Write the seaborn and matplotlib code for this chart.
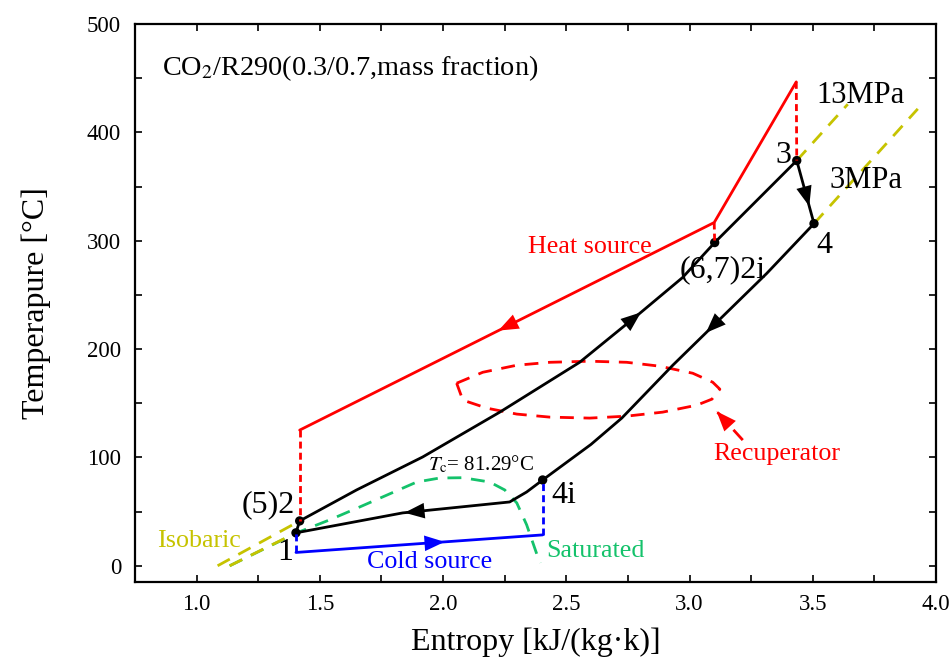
import matplotlib
matplotlib.use("Agg")
import matplotlib.pyplot as plt
import numpy as np
import pandas as pd
import seaborn as sns

# ---------------- data: entropy s [kJ/(kg·K)], temperature T [°C] ----------------
# state points of the cycle
state_names = ["1", "(5)2", "(6,7)2i", "3", "4", "4i"]
state_s = [1.403, 1.418, 3.102, 3.435, 3.505, 2.404]
state_T = [30.4, 41.4, 298.3, 374.0, 315.8, 79.2]

# compression 1 -> 2
comp_s = [1.403, 1.418]
comp_T = [30.4, 41.4]

# high-pressure heating 2 -> 2i -> 3
heat_s = [1.418, 1.649, 1.917, 2.230, 2.554, 2.798, 2.972, 3.102, 3.435]
heat_T = [41.4, 70.0, 100.4, 141.8, 187.8, 233.0, 266.1, 298.3, 374.0]

# turbine expansion 3 -> 4
exp_s = [3.435, 3.505]
exp_T = [374.0, 315.8]

# low-pressure cooling 4 -> 4i -> 1
cool_s = [3.505, 3.313, 2.932, 2.725, 2.600, 2.404, 2.339, 2.270, 1.836, 1.403]
cool_T = [315.8, 269.8, 185.1, 136.3, 112.0, 79.2, 68.1, 58.9, 48.8, 30.4]

# heat source stream
hsrc_s = [3.433, 3.100, 1.418]
hsrc_T = [446.6, 316.8, 125.2]

# cold source stream
csrc_s = [1.403, 2.404]
csrc_T = [12.3, 28.5]

# saturation dome of the mixture (critical temperature 81.29 °C)
dome_s = [1.134, 1.406, 1.540, 1.662, 1.893, 1.986, 2.080, 2.189, 2.250, 2.299, 2.339, 2.384, 2.396]
dome_T = [0.0, 30.4, 42.4, 54.3, 77.3, 81.0, 81.29, 77.3, 70.0, 58.0, 37.8, 8.3, 2.8]

# isobars 13 MPa and 3 MPa (low- and high-temperature parts)
iso13_low_s, iso13_low_T = [1.085, 1.418], [0.0, 41.4]
iso3_low_s, iso3_low_T = [1.134, 1.403], [0.0, 30.4]
iso13_high_s, iso13_high_T = [3.435, 3.642], [374.0, 426.0]
iso3_high_s, iso3_high_T = [3.505, 3.926], [315.8, 421.7]

# recuperator outline
recup_s = [2.055, 2.161, 2.299, 2.433, 2.595, 2.745, 2.879, 3.013, 3.094, 3.123,
           3.091, 3.029, 2.891, 2.745, 2.595, 2.433, 2.299, 2.177, 2.080, 2.055]
recup_T = [168.5, 178.6, 185.1, 187.8, 188.8, 187.8, 184.2, 177.7, 169.4, 163.0,
           153.8, 148.2, 141.8, 138.1, 136.3, 137.2, 140.0, 145.5, 152.9, 168.5]
recup_ptr_s = [3.216, 3.100]
recup_ptr_T = [116.0, 145.0]

# axis ticks
x_ticks = [1.0, 1.5, 2.0, 2.5, 3.0, 3.5, 4.0]
y_ticks = [0, 100, 200, 300, 400, 500]

# ---------------- style ----------------
sns.set_theme(style="ticks")
plt.rcParams["font.family"] = ["Liberation Serif", "DejaVu Serif"]
plt.rcParams["mathtext.fontset"] = "stix"
plt.rcParams["text.color"] = "black"
plt.rcParams["axes.labelcolor"] = "black"
plt.rcParams["xtick.color"] = "black"
plt.rcParams["ytick.color"] = "black"

RED = "#ff0000"
BLUE = "#0000ff"
GREEN = "#14c26b"
OLIVE = "#c6c300"
BLACK = "#000000"

fig = plt.figure(figsize=(9.49, 6.62), dpi=100)
ax = fig.add_axes([0.1423, 0.1208, 0.8440, 0.8429])
ax.set_xlim(0.75, 4.0)
ax.set_ylim(-15, 500)


def draw(xs, ys, color, lw=2.0, ls="-", z=2):
    df = pd.DataFrame({"s": xs, "T": ys})
    sns.lineplot(data=df, x="s", y="T", sort=False, estimator=None, ax=ax,
                 color=color, linewidth=lw, linestyle=ls, zorder=z,
                 legend=False)


def arrow_at(xs, ys, where, color, axis="x", size=17):
    """Filled arrow head placed on a polyline, pointing along the flow."""
    xs = np.asarray(xs, float)
    ys = np.asarray(ys, float)
    ref = xs if axis == "x" else ys
    for i in range(len(xs) - 1):
        a, b = ref[i], ref[i + 1]
        if min(a, b) <= where <= max(a, b) and a != b:
            t = (where - a) / (b - a)
            px = xs[i] + t * (xs[i + 1] - xs[i])
            py = ys[i] + t * (ys[i + 1] - ys[i])
            dx, dy = xs[i + 1] - xs[i], ys[i + 1] - ys[i]
            break
    tip = (px + 0.02 * dx, py + 0.02 * dy)
    tail = (px - 0.02 * dx, py - 0.02 * dy)
    ax.annotate("", xy=tip, xytext=tail,
                arrowprops=dict(arrowstyle="-|>,head_length=0.85,head_width=0.33",
                                mutation_scale=size, lw=0, fc=color, ec=color,
                                shrinkA=0, shrinkB=0), zorder=6)


dash_long = (0, (5, 3.5))
dash_short = (0, (2.5, 1.5))

# isobars and saturation dome
draw(iso13_low_s, iso13_low_T, OLIVE, ls=dash_long, z=3)
draw(iso3_low_s, iso3_low_T, OLIVE, ls=dash_long, z=3)
draw(iso13_high_s, iso13_high_T, OLIVE, ls=dash_long, z=3)
draw(iso3_high_s, iso3_high_T, OLIVE, ls=dash_long, z=3)
draw(dome_s, dome_T, GREEN, ls=dash_long, z=2)

# heat source / cold source streams
draw(hsrc_s, hsrc_T, RED)
draw(csrc_s, csrc_T, BLUE)

# recuperator
draw(recup_s, recup_T, RED, ls=dash_long)
draw(recup_ptr_s, recup_ptr_T, RED, ls=dash_long)

# thermodynamic cycle
for xs, ys in [(comp_s, comp_T), (heat_s, heat_T), (exp_s, exp_T), (cool_s, cool_T)]:
    draw(xs, ys, BLACK, z=4)

sns.scatterplot(x=state_s, y=state_T, ax=ax, color=BLACK, s=45,
                edgecolor="none", zorder=5, legend=False)

# pinch connections between cycle and external streams
draw([hsrc_s[2], comp_s[1]], [hsrc_T[2], comp_T[1]], RED, ls=dash_short, z=6)
draw([hsrc_s[1], heat_s[7]], [hsrc_T[1], heat_T[7]], RED, ls=dash_short, z=6)
draw([hsrc_s[0], heat_s[-1]], [hsrc_T[0], heat_T[-1]], RED, ls=dash_short, z=6)
draw([csrc_s[0], comp_s[0]], [csrc_T[0], comp_T[0]], BLUE, ls=dash_short, z=6)
draw([csrc_s[1], cool_s[5]], [csrc_T[1], cool_T[5]], BLUE, ls=dash_short, z=6)

# flow direction arrows
arrow_at(hsrc_s, hsrc_T, 2.258, RED)
arrow_at(csrc_s, csrc_T, 1.986, BLUE)
arrow_at(heat_s, heat_T, 2.798, BLACK)
arrow_at(cool_s, cool_T, 3.074, BLACK)
arrow_at(cool_s, cool_T, 1.852, BLACK)
arrow_at(exp_s, exp_T, 333.0, BLACK, axis="y")
arrow_at(recup_ptr_s, recup_ptr_T, 3.112, RED)

# ---------------- labels ----------------
ax.text(0.858, 453, r"CO$_2$/R290(0.3/0.7,mass fraction)", fontsize=20.3, va="baseline")
ax.text(3.516, 427.3, "13MPa", fontsize=22, va="baseline")
ax.text(3.569, 349.0, "3MPa", fontsize=22, va="baseline")
ax.text(3.415, 372.0, "3", fontsize=23, va="baseline", ha="right")
ax.text(3.516, 289.1, "4", fontsize=23, va="baseline")
ax.text(2.960, 266.1, "(6,7)2i", fontsize=23, va="baseline")
ax.text(2.441, 58.0, "4i", fontsize=23, va="baseline")
ax.text(1.398, 49.7, "(5)2", fontsize=23, va="baseline", ha="right")
ax.text(1.361, 5.5, "1", fontsize=23, va="baseline", ha="center")
ax.text(2.343, 289.1, "Heat source", fontsize=18.7, va="baseline", color=RED)
ax.text(3.098, 97.6, "Recuperator", fontsize=18.7, va="baseline", color=RED)
ax.text(2.420, 8.3, "Saturated", fontsize=18.7, va="baseline", color=GREEN)
ax.text(1.690, -1.8, "Cold source", fontsize=18.7, va="baseline", color=BLUE)
ax.text(0.838, 17.5, "Isobaric", fontsize=18.7, va="baseline", color=OLIVE)
ax.text(1.9375, 88.4, r"$T_\mathrm{c}$= 81.29°C", fontsize=15, va="baseline")

# ---------------- axes ----------------
ax.set_xticks(x_ticks)
ax.set_xticklabels([f"{v:.1f}" for v in x_ticks])
ax.set_yticks(y_ticks)
ax.set_yticklabels([str(v) for v in y_ticks])
ax.xaxis.set_minor_locator(matplotlib.ticker.MultipleLocator(0.25))
ax.yaxis.set_minor_locator(matplotlib.ticker.MultipleLocator(50))
ax.tick_params(which="both", direction="in", top=True, right=True,
               length=5, width=1.2, colors=BLACK)
ax.tick_params(which="major", labelsize=16.5, pad=8.5)
ax.tick_params(axis="y", which="major", pad=10)
for sp in ax.spines.values():
    sp.set_linewidth(1.6)
    sp.set_color(BLACK)

ax.set_xlabel("Entropy [kJ/(kg·k)]", fontsize=23, labelpad=9)
ax.set_ylabel("Temperapure [°C]", fontsize=23, labelpad=26)

fig.savefig("out.png", dpi=100)
